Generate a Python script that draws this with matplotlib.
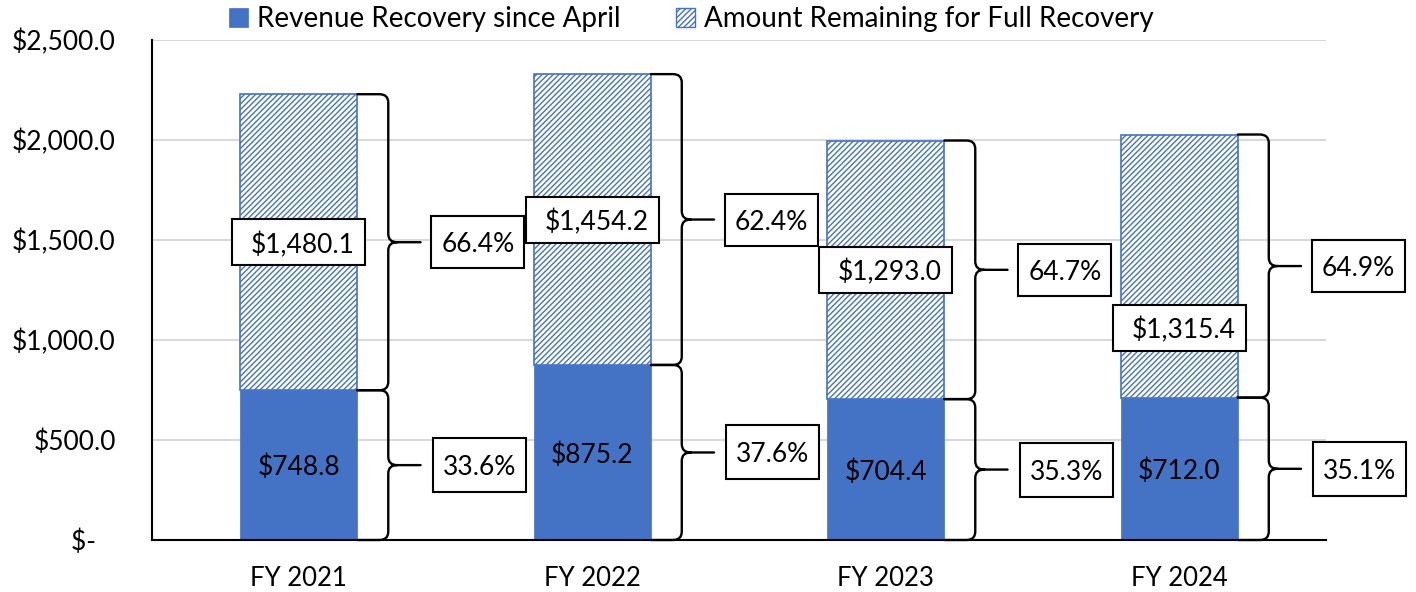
import matplotlib
matplotlib.use('Agg')
import matplotlib.pyplot as plt
from matplotlib.path import Path
from matplotlib.patches import PathPatch, Patch, Rectangle
import matplotlib.transforms as mtransforms

# ---------------- data ----------------
categories = ['FY 2021', 'FY 2022', 'FY 2023', 'FY 2024']
revenue_recovered = [748.8, 875.2, 704.4, 712.0]
amount_remaining = [1480.1, 1454.2, 1293.0, 1315.4]
pct_recovered = ['33.6%', '37.6%', '35.3%', '35.1%']
pct_remaining = ['66.4%', '62.4%', '64.7%', '64.9%']
yticks = [0, 500, 1000, 1500, 2000, 2500]
ytick_labels = ['$-   ', '$500.0', '$1,000.0', '$1,500.0', '$2,000.0', '$2,500.0']
series_names = ['Revenue Recovery since April', 'Amount Remaining for Full Recovery']

# ---------------- style / layout ----------------
BLUE = '#4472C4'
FONT = 'Lato'
FS = 19
remaining_label_shift = [0, 0, 0, -310]   # manual label placement (data units)
bar_w = 0.4

plt.rcParams['font.family'] = [FONT, 'DejaVu Sans']
plt.rcParams['hatch.color'] = BLUE
plt.rcParams['hatch.linewidth'] = 1.0

fig = plt.figure(figsize=(14.16, 5.92), dpi=100)
ax = fig.add_axes([152 / 1416, 52 / 592, (1326 - 152) / 1416, 500 / 592])

x = list(range(len(categories)))
ax.bar(x, revenue_recovered, width=bar_w, color=BLUE, edgecolor=BLUE, linewidth=0.5, zorder=2)
ax.bar(x, amount_remaining, width=bar_w, bottom=revenue_recovered, color='white',
       edgecolor=BLUE, hatch='//////', linewidth=1.2, zorder=2)

ax.set_xlim(-0.5, 3.5)
ax.set_ylim(0, 2500)
ax.set_yticks(yticks)
ax.set_yticklabels(ytick_labels)
ax.set_xticks(x)
ax.set_xticklabels(categories)
ax.tick_params(axis='both', length=0, colors='black')
ax.tick_params(axis='y', pad=26, labelsize=FS)
ax.tick_params(axis='x', pad=19, labelsize=18.5)
ax.grid(axis='y', color='#D9D9D9', linewidth=1.5, zorder=0)
ax.set_axisbelow(True)
for s in ['top', 'right']:
    ax.spines[s].set_visible(False)
for s in ['left', 'bottom']:
    ax.spines[s].set_color('black')
    ax.spines[s].set_linewidth(1.5)


def brace(xc, ytop, ybot, xe_off=0.2, xv_off=0.305, xt_off=0.415, rx=0.03, ry=42):
    xe, xv, xt = xc + xe_off, xc + xv_off, xc + xt_off
    ym = (ytop + ybot) / 2
    M, L, C = Path.MOVETO, Path.LINETO, Path.CURVE3
    verts = [(xe, ytop), (xv - rx, ytop), (xv, ytop), (xv, ytop - ry),
             (xv, ym + ry), (xv, ym), (xv + rx, ym), (xt, ym),
             (xv + rx, ym), (xv, ym), (xv, ym - ry),
             (xv, ybot + ry), (xv, ybot), (xv - rx, ybot), (xe, ybot)]
    codes = [M, L, C, C, L, C, C, L, M, C, C, L, C, C, L]
    ax.add_patch(PathPatch(Path(verts, codes), fill=False, edgecolor='black',
                           linewidth=1.7, capstyle='round', joinstyle='round',
                           zorder=4, clip_on=False))
    return ym


def boxed(xd, yd, text, wpx, hpx, dx_px=0):
    trans = fig.dpi_scale_trans + mtransforms.ScaledTranslation(xd, yd, ax.transData)
    w, h = wpx / 100, hpx / 100
    ax.add_patch(Rectangle((-w / 2, -h / 2), w, h, transform=trans, facecolor='white',
                           edgecolor='black', linewidth=1.5, zorder=5, clip_on=False))
    ax.text(dx_px / 100, 0, text, transform=trans, ha='center', va='center_baseline',
            fontsize=FS, color='black', zorder=6, clip_on=False)


for i in x:
    r = revenue_recovered[i]
    a = amount_remaining[i]
    top = r + a
    ym_up = brace(i, top, r)
    ym_lo = brace(i, r, 0)
    # percentage boxes
    boxed(i + 0.61, ym_up, pct_remaining[i], 93, 52)
    boxed(i + 0.615, ym_lo, pct_recovered[i], 93, 54)
    # remaining value boxes
    boxed(i, r + a / 2 + remaining_label_shift[i], f'${a:,.1f}', 133, 46, dx_px=4)
    # revenue value labels
    ax.text(i, r / 2, f'${r:,.1f}', ha='center', va='center_baseline', fontsize=FS,
            color='black', zorder=6)

handles = [Patch(facecolor=BLUE, edgecolor=BLUE, linewidth=0.5),
           Patch(facecolor='white', edgecolor=BLUE, hatch='//////', linewidth=1.0)]
fig.legend(handles, series_names, loc='center', bbox_to_anchor=(691 / 1416, 1 - 19 / 592),
           ncol=2, frameon=False, fontsize=20, handlelength=0.7, handleheight=0.7,
           handletextpad=0.3, columnspacing=2.0, borderpad=0, borderaxespad=0)

fig.savefig('out.png', dpi=100)
